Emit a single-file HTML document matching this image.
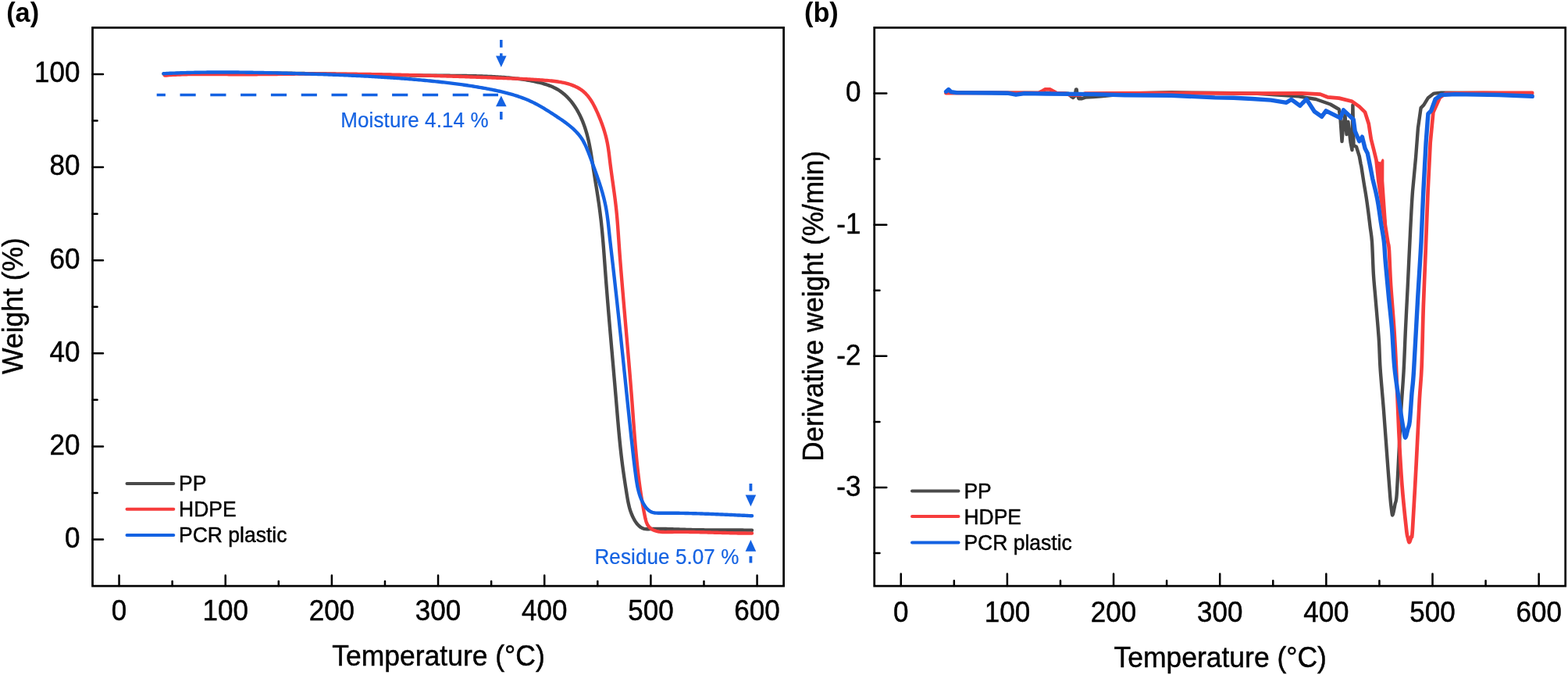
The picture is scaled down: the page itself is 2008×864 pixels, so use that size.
<!DOCTYPE html><html><head><meta charset="utf-8"><title>TGA and DTG curves</title><style>
html,body{margin:0;padding:0;background:#fff;width:2008px;height:864px;overflow:hidden}
svg{display:block}
text{font-family:"Liberation Sans",Arial,sans-serif;fill:#000;stroke:#000;stroke-width:0.45px}
.t{font-size:35px}
.l{font-size:26.5px}
.ti{font-size:35.5px}
.an{font-size:26px;fill:#1462e2;stroke:#1462e2;stroke-width:0.2px;letter-spacing:0.1px}
.b{font-size:34.3px;font-weight:bold;stroke:none}
</style></head><body>
<svg width="2008" height="864" viewBox="0 0 2008 864">
<rect width="2008" height="864" fill="#fff"/>
<text x="8.2" y="27.7" class="b">(a)</text>
<rect x="118.5" y="35.4" width="885.1" height="714.7" fill="none" stroke="#000" stroke-width="2.7"/>
<path d="M152.54 750.1V736.6M288.71 750.1V736.6M424.88 750.1V736.6M561.05 750.1V736.6M697.22 750.1V736.6M833.39 750.1V736.6M969.56 750.1V736.6M220.63 750.1V744M356.8 750.1V744M492.97 750.1V744M629.13 750.1V744M765.3 750.1V744M901.47 750.1V744M118.5 690.54H132M118.5 571.42H132M118.5 452.31H132M118.5 333.19H132M118.5 214.07H132M118.5 94.96H132M118.5 630.98H124.6M118.5 511.87H124.6M118.5 392.75H124.6M118.5 273.63H124.6M118.5 154.52H124.6" stroke="#000" stroke-width="2.5" stroke-linecap="round" fill="none"/>
<text transform="translate(152.54 794.1) scale(1 1.055)" text-anchor="middle" class="t">0</text>
<text transform="translate(288.71 794.1) scale(1 1.055)" text-anchor="middle" class="t">100</text>
<text transform="translate(424.88 794.1) scale(1 1.055)" text-anchor="middle" class="t">200</text>
<text transform="translate(561.05 794.1) scale(1 1.055)" text-anchor="middle" class="t">300</text>
<text transform="translate(697.22 794.1) scale(1 1.055)" text-anchor="middle" class="t">400</text>
<text transform="translate(833.39 794.1) scale(1 1.055)" text-anchor="middle" class="t">500</text>
<text transform="translate(969.56 794.1) scale(1 1.055)" text-anchor="middle" class="t">600</text>
<text transform="translate(102.5 700.94) scale(1 1.055)" text-anchor="end" class="t">0</text>
<text transform="translate(102.5 581.82) scale(1 1.055)" text-anchor="end" class="t">20</text>
<text transform="translate(102.5 462.71) scale(1 1.055)" text-anchor="end" class="t">40</text>
<text transform="translate(102.5 343.59) scale(1 1.055)" text-anchor="end" class="t">60</text>
<text transform="translate(102.5 224.47) scale(1 1.055)" text-anchor="end" class="t">80</text>
<text transform="translate(102.5 105.36) scale(1 1.055)" text-anchor="end" class="t">100</text>
<text transform="translate(561.5 851.8) scale(1 1.05)" class="ti" text-anchor="middle">Temperature (°C)</text>
<text transform="translate(28.7 391.5) rotate(-90) scale(1 1.05)" class="ti" text-anchor="middle">Weight (%)</text>
<g fill="none" stroke-width="4.4" stroke-linecap="round" stroke-linejoin="round">
<path d="M209.5 94.6 L211.5 94.53 L213.5 94.47 L215.5 94.41 L217.5 94.35 L219.5 94.29 L221.5 94.23 L223.5 94.18 L225.49 94.13 L227.49 94.07 L229.49 94.02 L231.49 93.98 L233.49 93.93 L235.49 93.88 L237.49 93.84 L239.49 93.8 L241.49 93.76 L243.49 93.72 L245.49 93.68 L247.48 93.65 L249.48 93.61 L251.48 93.58 L253.48 93.55 L255.48 93.52 L257.48 93.49 L259.48 93.47 L261.48 93.44 L263.48 93.42 L265.48 93.4 L267.47 93.37 L269.47 93.35 L271.47 93.34 L273.47 93.32 L275.47 93.3 L277.47 93.29 L279.47 93.28 L281.47 93.26 L283.47 93.25 L285.46 93.24 L287.46 93.24 L289.46 93.23 L291.46 93.22 L293.46 93.22 L295.46 93.22 L297.46 93.21 L299.46 93.21 L301.45 93.21 L303.45 93.21 L305.45 93.22 L307.45 93.22 L309.45 93.22 L311.45 93.23 L313.45 93.23 L315.44 93.24 L317.44 93.25 L319.44 93.26 L321.44 93.27 L323.44 93.28 L325.44 93.29 L327.44 93.31 L329.44 93.32 L331.43 93.33 L333.43 93.35 L335.43 93.37 L337.43 93.38 L339.43 93.4 L341.43 93.42 L343.43 93.44 L345.42 93.46 L347.42 93.48 L349.42 93.5 L351.42 93.53 L353.42 93.55 L355.42 93.57 L357.42 93.6 L359.41 93.62 L361.41 93.65 L363.41 93.67 L365.41 93.7 L367.41 93.73 L369.41 93.76 L371.41 93.79 L373.4 93.82 L375.4 93.85 L377.4 93.88 L379.4 93.91 L381.4 93.94 L383.4 93.97 L385.4 94 L387.39 94.04 L389.39 94.07 L391.39 94.1 L393.39 94.14 L395.39 94.17 L397.39 94.2 L399.39 94.24 L401.39 94.27 L403.38 94.31 L405.38 94.35 L407.38 94.38 L409.38 94.42 L411.38 94.46 L413.38 94.49 L415.38 94.53 L417.37 94.57 L419.37 94.6 L421.37 94.64 L423.37 94.68 L425.37 94.72 L427.37 94.76 L429.37 94.79 L431.37 94.83 L433.36 94.87 L435.36 94.91 L437.36 94.95 L439.36 94.99 L441.36 95.02 L443.36 95.06 L445.36 95.1 L447.36 95.14 L449.36 95.18 L451.35 95.21 L453.35 95.25 L455.35 95.29 L457.35 95.33 L459.35 95.37 L461.35 95.4 L463.35 95.44 L465.35 95.48 L467.35 95.52 L469.34 95.55 L471.34 95.59 L473.34 95.63 L475.34 95.66 L477.34 95.7 L479.34 95.73 L481.34 95.77 L483.34 95.8 L485.34 95.84 L487.34 95.87 L489.34 95.9 L491.33 95.94 L493.33 95.97 L495.33 96 L497.33 96.04 L499.33 96.07 L501.33 96.1 L503.33 96.13 L505.33 96.16 L507.33 96.19 L509.33 96.22 L511.33 96.25 L513.33 96.27 L515.33 96.3 L517.33 96.33 L519.32 96.36 L521.32 96.38 L523.32 96.41 L525.32 96.43 L527.32 96.45 L529.32 96.48 L531.32 96.5 L533.32 96.52 L535.32 96.54 L537.32 96.56 L539.32 96.58 L541.32 96.6 L543.32 96.62 L545.32 96.63 L547.32 96.65 L549.32 96.66 L551.32 96.68 L553.32 96.69 L555.32 96.7 L557.32 96.72 L559.32 96.73 L561.32 96.74 L563.32 96.75 L565.32 96.76 L567.32 96.77 L569.32 96.78 L571.32 96.79 L573.32 96.8 L575.32 96.81 L577.32 96.83 L579.32 96.84 L581.31 96.86 L583.31 96.87 L585.31 96.89 L587.31 96.91 L589.31 96.93 L591.31 96.96 L593.31 96.99 L595.31 97.01 L597.3 97.05 L599.3 97.08 L601.3 97.12 L603.3 97.16 L605.29 97.2 L607.29 97.25 L609.29 97.3 L611.28 97.36 L613.28 97.42 L615.27 97.48 L617.27 97.55 L619.26 97.62 L621.26 97.7 L623.25 97.78 L625.25 97.87 L627.24 97.96 L629.23 98.06 L631.23 98.16 L633.22 98.27 L635.21 98.38 L637.2 98.5 L639.19 98.63 L641.18 98.77 L643.17 98.91 L645.16 99.05 L647.15 99.21 L649.14 99.37 L651.13 99.55 L653.12 99.73 L655.1 99.92 L657.09 100.13 L659.07 100.34 L661.06 100.57 L663.04 100.8 L665.03 101.05 L667.01 101.32 L668.99 101.59 L670.97 101.89 L672.96 102.19 L674.94 102.51 L676.91 102.85 L678.89 103.2 L680.87 103.57 L682.85 103.96 L684.82 104.37 L686.8 104.79 L688.77 105.24 L690.74 105.7 L692.7 106.2 L694.65 106.72 L696.58 107.27 L698.51 107.85 L700.41 108.47 L702.3 109.12 L704.17 109.82 L706.01 110.56 L707.82 111.34 L709.61 112.17 L711.36 113.05 L713.09 113.98 L714.77 114.97 L716.42 116.01 L718.03 117.11 L719.61 118.26 L721.14 119.46 L722.64 120.71 L724.1 122.01 L725.53 123.36 L726.92 124.75 L728.28 126.18 L729.59 127.65 L730.88 129.16 L732.13 130.71 L733.34 132.29 L734.52 133.91 L735.66 135.56 L736.77 137.23 L737.85 138.94 L738.89 140.67 L739.9 142.42 L740.88 144.2 L741.82 146 L742.73 147.81 L743.61 149.64 L744.46 151.49 L745.28 153.35 L746.06 155.22 L746.81 157.1 L747.53 158.99 L748.23 160.89 L748.89 162.78 L749.52 164.69 L750.13 166.6 L750.7 168.51 L751.26 170.43 L751.79 172.35 L752.29 174.27 L752.78 176.2 L753.24 178.13 L753.69 180.07 L754.12 182.01 L754.53 183.95 L754.92 185.89 L755.3 187.84 L755.67 189.79 L756.03 191.75 L756.37 193.7 L756.71 195.66 L757.03 197.62 L757.35 199.58 L757.67 201.54 L757.97 203.51 L758.28 205.47 L758.58 207.44 L758.88 209.41 L759.18 211.38 L759.49 213.35 L759.79 215.32 L760.1 217.29 L760.41 219.26 L760.72 221.23 L761.03 223.21 L761.35 225.18 L761.67 227.15 L761.99 229.13 L762.3 231.1 L762.62 233.08 L762.94 235.05 L763.26 237.03 L763.58 239.01 L763.89 240.98 L764.21 242.96 L764.52 244.94 L764.83 246.92 L765.14 248.9 L765.45 250.88 L765.75 252.86 L766.05 254.84 L766.35 256.82 L766.64 258.8 L766.93 260.78 L767.21 262.76 L767.49 264.74 L767.76 266.73 L768.02 268.71 L768.28 270.69 L768.54 272.68 L768.78 274.66 L769.02 276.64 L769.26 278.63 L769.49 280.61 L769.71 282.6 L769.93 284.58 L770.15 286.57 L770.35 288.56 L770.56 290.54 L770.76 292.53 L770.95 294.52 L771.14 296.5 L771.33 298.49 L771.51 300.48 L771.69 302.47 L771.87 304.46 L772.04 306.45 L772.21 308.44 L772.38 310.43 L772.54 312.41 L772.7 314.4 L772.86 316.39 L773.02 318.39 L773.17 320.38 L773.32 322.37 L773.48 324.36 L773.63 326.35 L773.77 328.34 L773.92 330.33 L774.07 332.32 L774.22 334.32 L774.36 336.31 L774.51 338.3 L774.65 340.29 L774.8 342.29 L774.94 344.28 L775.09 346.27 L775.24 348.26 L775.38 350.26 L775.53 352.25 L775.68 354.24 L775.83 356.24 L775.99 358.23 L776.14 360.23 L776.29 362.22 L776.44 364.21 L776.6 366.21 L776.76 368.2 L776.91 370.2 L777.07 372.19 L777.23 374.19 L777.39 376.18 L777.55 378.18 L777.71 380.17 L777.87 382.16 L778.03 384.16 L778.19 386.15 L778.36 388.15 L778.52 390.14 L778.68 392.14 L778.85 394.13 L779.01 396.13 L779.18 398.12 L779.35 400.12 L779.51 402.11 L779.68 404.11 L779.85 406.1 L780.02 408.1 L780.19 410.09 L780.36 412.09 L780.53 414.08 L780.7 416.08 L780.87 418.07 L781.04 420.07 L781.21 422.06 L781.38 424.06 L781.55 426.05 L781.73 428.04 L781.9 430.04 L782.07 432.03 L782.25 434.03 L782.42 436.02 L782.59 438.01 L782.77 440.01 L782.94 442 L783.11 444 L783.29 445.99 L783.46 447.98 L783.64 449.97 L783.81 451.97 L783.99 453.96 L784.16 455.95 L784.33 457.95 L784.51 459.94 L784.68 461.93 L784.86 463.92 L785.03 465.91 L785.21 467.9 L785.38 469.9 L785.56 471.89 L785.73 473.88 L785.9 475.87 L786.08 477.86 L786.25 479.85 L786.42 481.84 L786.6 483.83 L786.77 485.82 L786.94 487.81 L787.12 489.8 L787.29 491.78 L787.46 493.77 L787.63 495.76 L787.8 497.75 L787.97 499.74 L788.14 501.72 L788.31 503.71 L788.48 505.7 L788.65 507.68 L788.82 509.67 L788.99 511.66 L789.16 513.64 L789.33 515.63 L789.49 517.61 L789.66 519.59 L789.83 521.58 L789.99 523.56 L790.16 525.55 L790.32 527.53 L790.49 529.51 L790.66 531.5 L790.83 533.48 L790.99 535.46 L791.16 537.45 L791.33 539.43 L791.51 541.42 L791.68 543.4 L791.85 545.38 L792.03 547.37 L792.21 549.35 L792.39 551.34 L792.57 553.33 L792.75 555.31 L792.94 557.3 L793.13 559.29 L793.32 561.27 L793.51 563.26 L793.71 565.25 L793.91 567.24 L794.12 569.23 L794.32 571.23 L794.53 573.22 L794.75 575.21 L794.97 577.21 L795.19 579.2 L795.41 581.2 L795.64 583.2 L795.88 585.2 L796.12 587.2 L796.36 589.2 L796.61 591.2 L796.86 593.2 L797.12 595.21 L797.39 597.22 L797.66 599.22 L797.93 601.23 L798.21 603.24 L798.49 605.25 L798.78 607.25 L799.07 609.26 L799.36 611.26 L799.66 613.27 L799.96 615.26 L800.26 617.26 L800.56 619.25 L800.87 621.24 L801.18 623.22 L801.49 625.2 L801.8 627.18 L802.11 629.15 L802.43 631.11 L802.74 633.06 L803.06 635.01 L803.38 636.95 L803.72 638.88 L804.07 640.81 L804.45 642.72 L804.85 644.63 L805.28 646.52 L805.74 648.41 L806.23 650.28 L806.77 652.14 L807.36 653.99 L808 655.83 L808.69 657.66 L809.43 659.48 L810.25 661.28 L811.12 663.06 L812.07 664.83 L813.1 666.59 L814.2 668.32 L815.4 669.99 L816.71 671.57 L818.14 673.02 L819.68 674.3 L821.32 675.39 L823.05 676.25 L824.86 676.84 L826.73 677.16 L828.67 677.25 L830.65 677.2 L832.67 677.09 L834.71 677 L836.78 676.94 L838.86 676.92 L840.94 676.91 L843.01 676.91 L845.07 676.92 L847.12 676.94 L849.16 676.97 L851.19 677.01 L853.21 677.06 L855.22 677.11 L857.23 677.16 L859.23 677.22 L861.22 677.28 L863.21 677.35 L865.19 677.41 L867.18 677.48 L869.16 677.55 L871.14 677.62 L873.11 677.69 L875.09 677.76 L877.07 677.82 L879.05 677.88 L881.03 677.94 L883.01 677.99 L885 678.04 L886.99 678.09 L888.98 678.13 L890.97 678.17 L892.96 678.21 L894.96 678.24 L896.96 678.27 L898.96 678.3 L900.96 678.32 L902.96 678.34 L904.96 678.36 L906.96 678.38 L908.97 678.39 L910.97 678.41 L912.98 678.42 L914.98 678.43 L916.99 678.44 L919 678.45 L921.01 678.46 L923.01 678.46 L925.02 678.47 L927.03 678.47 L929.03 678.48 L931.04 678.48 L933.05 678.49 L935.05 678.5 L937.06 678.5 L939.06 678.51 L941.06 678.52 L943.07 678.53 L945.07 678.54 L947.07 678.55 L949.06 678.56 L951.06 678.57 L953.06 678.59 L955.05 678.61 L957.04 678.63 L959.03 678.65 L961.02 678.67 L963 678.7" stroke="#4a4a4a"/>
<path d="M211 96.6 L213 96.44 L214.99 96.3 L216.99 96.16 L218.99 96.03 L220.98 95.91 L222.98 95.8 L224.98 95.7 L226.97 95.61 L228.97 95.52 L230.97 95.44 L232.96 95.37 L234.96 95.3 L236.96 95.25 L238.95 95.19 L240.95 95.15 L242.95 95.11 L244.94 95.07 L246.94 95.04 L248.94 95.02 L250.93 95 L252.93 94.98 L254.93 94.97 L256.92 94.96 L258.92 94.96 L260.92 94.96 L262.91 94.96 L264.91 94.97 L266.91 94.97 L268.91 94.98 L270.9 95 L272.9 95.01 L274.9 95.03 L276.89 95.04 L278.89 95.06 L280.89 95.08 L282.88 95.1 L284.88 95.12 L286.88 95.14 L288.88 95.15 L290.87 95.17 L292.87 95.19 L294.87 95.21 L296.87 95.22 L298.86 95.23 L300.86 95.24 L302.86 95.25 L304.85 95.26 L306.85 95.26 L308.85 95.26 L310.85 95.26 L312.84 95.26 L314.84 95.26 L316.84 95.25 L318.84 95.25 L320.83 95.24 L322.83 95.23 L324.83 95.22 L326.82 95.2 L328.82 95.19 L330.82 95.17 L332.82 95.16 L334.81 95.14 L336.81 95.12 L338.81 95.1 L340.81 95.08 L342.8 95.06 L344.8 95.04 L346.8 95.02 L348.8 95 L350.79 94.98 L352.79 94.95 L354.79 94.93 L356.79 94.91 L358.79 94.89 L360.78 94.86 L362.78 94.84 L364.78 94.82 L366.78 94.79 L368.77 94.77 L370.77 94.75 L372.77 94.73 L374.77 94.71 L376.76 94.69 L378.76 94.67 L380.76 94.65 L382.76 94.64 L384.75 94.62 L386.75 94.61 L388.75 94.59 L390.75 94.58 L392.75 94.57 L394.74 94.56 L396.74 94.55 L398.74 94.54 L400.74 94.54 L402.73 94.53 L404.73 94.53 L406.73 94.52 L408.73 94.52 L410.73 94.52 L412.72 94.52 L414.72 94.53 L416.72 94.53 L418.72 94.53 L420.72 94.54 L422.71 94.54 L424.71 94.55 L426.71 94.56 L428.71 94.57 L430.7 94.58 L432.7 94.59 L434.7 94.61 L436.7 94.62 L438.7 94.63 L440.69 94.65 L442.69 94.67 L444.69 94.68 L446.69 94.7 L448.69 94.72 L450.68 94.74 L452.68 94.77 L454.68 94.79 L456.68 94.81 L458.68 94.84 L460.67 94.86 L462.67 94.89 L464.67 94.92 L466.67 94.94 L468.66 94.97 L470.66 95 L472.66 95.03 L474.66 95.07 L476.66 95.1 L478.65 95.13 L480.65 95.17 L482.65 95.2 L484.65 95.24 L486.65 95.27 L488.64 95.31 L490.64 95.35 L492.64 95.39 L494.64 95.43 L496.64 95.47 L498.63 95.51 L500.63 95.55 L502.63 95.59 L504.63 95.64 L506.63 95.68 L508.62 95.73 L510.62 95.77 L512.62 95.82 L514.62 95.86 L516.62 95.91 L518.61 95.96 L520.61 96.01 L522.61 96.06 L524.61 96.11 L526.61 96.16 L528.6 96.21 L530.6 96.26 L532.6 96.31 L534.6 96.37 L536.6 96.42 L538.59 96.47 L540.59 96.53 L542.59 96.58 L544.59 96.64 L546.59 96.69 L548.58 96.75 L550.58 96.81 L552.58 96.86 L554.58 96.92 L556.58 96.98 L558.57 97.04 L560.57 97.1 L562.57 97.16 L564.57 97.22 L566.57 97.28 L568.56 97.34 L570.56 97.4 L572.56 97.46 L574.56 97.52 L576.55 97.59 L578.55 97.65 L580.55 97.71 L582.55 97.78 L584.54 97.84 L586.54 97.91 L588.54 97.97 L590.54 98.04 L592.53 98.1 L594.53 98.17 L596.53 98.24 L598.53 98.3 L600.52 98.37 L602.52 98.44 L604.52 98.51 L606.51 98.58 L608.51 98.65 L610.5 98.72 L612.5 98.79 L614.5 98.86 L616.49 98.94 L618.49 99.01 L620.48 99.08 L622.48 99.15 L624.47 99.23 L626.47 99.3 L628.46 99.38 L630.46 99.46 L632.45 99.53 L634.45 99.61 L636.44 99.69 L638.43 99.76 L640.43 99.84 L642.42 99.92 L644.41 100 L646.41 100.08 L648.4 100.16 L650.39 100.24 L652.39 100.33 L654.38 100.41 L656.37 100.49 L658.36 100.58 L660.35 100.66 L662.34 100.75 L664.33 100.83 L666.32 100.92 L668.31 101.01 L670.3 101.1 L672.3 101.19 L674.29 101.29 L676.28 101.39 L678.27 101.49 L680.26 101.6 L682.26 101.71 L684.25 101.83 L686.24 101.95 L688.24 102.08 L690.24 102.21 L692.23 102.35 L694.23 102.5 L696.23 102.66 L698.24 102.82 L700.24 102.99 L702.24 103.17 L704.25 103.36 L706.26 103.56 L708.26 103.77 L710.27 104.01 L712.27 104.26 L714.26 104.54 L716.25 104.84 L718.23 105.18 L720.2 105.55 L722.16 105.96 L724.11 106.41 L726.04 106.9 L727.96 107.43 L729.86 108.02 L731.74 108.66 L733.61 109.35 L735.45 110.11 L737.27 110.92 L739.06 111.8 L740.81 112.75 L742.51 113.76 L744.17 114.85 L745.76 116.01 L747.3 117.25 L748.76 118.56 L750.16 119.94 L751.5 121.38 L752.78 122.88 L754.01 124.43 L755.18 126.02 L756.31 127.65 L757.38 129.31 L758.41 131 L759.4 132.71 L760.35 134.45 L761.26 136.2 L762.15 137.97 L763.01 139.76 L763.85 141.56 L764.68 143.38 L765.5 145.21 L766.3 147.06 L767.08 148.92 L767.86 150.78 L768.61 152.66 L769.35 154.54 L770.07 156.43 L770.77 158.32 L771.45 160.22 L772.12 162.13 L772.76 164.04 L773.38 165.95 L773.98 167.87 L774.55 169.8 L775.1 171.73 L775.63 173.66 L776.12 175.6 L776.6 177.54 L777.04 179.48 L777.46 181.43 L777.85 183.38 L778.21 185.33 L778.55 187.29 L778.86 189.25 L779.16 191.21 L779.44 193.17 L779.71 195.14 L779.96 197.11 L780.21 199.08 L780.45 201.05 L780.68 203.02 L780.92 204.99 L781.16 206.97 L781.4 208.94 L781.65 210.92 L781.9 212.89 L782.16 214.87 L782.43 216.85 L782.69 218.82 L782.96 220.8 L783.23 222.78 L783.51 224.76 L783.78 226.74 L784.06 228.72 L784.34 230.7 L784.62 232.68 L784.9 234.66 L785.18 236.64 L785.46 238.62 L785.74 240.61 L786.01 242.59 L786.29 244.57 L786.56 246.56 L786.83 248.54 L787.09 250.53 L787.36 252.51 L787.61 254.5 L787.87 256.48 L788.11 258.47 L788.35 260.46 L788.59 262.44 L788.82 264.43 L789.04 266.42 L789.26 268.41 L789.46 270.39 L789.66 272.38 L789.86 274.37 L790.04 276.36 L790.22 278.35 L790.39 280.34 L790.55 282.33 L790.71 284.32 L790.87 286.31 L791.02 288.3 L791.17 290.29 L791.31 292.28 L791.45 294.27 L791.59 296.26 L791.73 298.25 L791.87 300.24 L792 302.24 L792.14 304.23 L792.27 306.22 L792.41 308.21 L792.55 310.2 L792.68 312.19 L792.83 314.19 L792.97 316.18 L793.11 318.17 L793.26 320.16 L793.4 322.15 L793.55 324.15 L793.7 326.14 L793.85 328.13 L794.01 330.12 L794.16 332.12 L794.31 334.11 L794.47 336.1 L794.63 338.09 L794.79 340.09 L794.94 342.08 L795.1 344.07 L795.26 346.06 L795.43 348.05 L795.59 350.05 L795.75 352.04 L795.92 354.03 L796.08 356.02 L796.24 358.01 L796.41 360 L796.58 361.99 L796.74 363.99 L796.91 365.98 L797.08 367.97 L797.24 369.96 L797.41 371.95 L797.58 373.94 L797.75 375.93 L797.92 377.92 L798.09 379.91 L798.26 381.9 L798.43 383.89 L798.6 385.88 L798.77 387.87 L798.94 389.86 L799.11 391.85 L799.28 393.84 L799.46 395.83 L799.63 397.82 L799.8 399.81 L799.97 401.8 L800.15 403.79 L800.32 405.78 L800.49 407.77 L800.66 409.76 L800.84 411.75 L801.01 413.74 L801.18 415.73 L801.36 417.72 L801.53 419.71 L801.7 421.7 L801.88 423.69 L802.05 425.68 L802.22 427.67 L802.39 429.66 L802.57 431.64 L802.74 433.63 L802.91 435.62 L803.08 437.61 L803.26 439.6 L803.43 441.59 L803.6 443.58 L803.77 445.57 L803.94 447.56 L804.11 449.55 L804.28 451.54 L804.45 453.53 L804.62 455.52 L804.79 457.51 L804.96 459.5 L805.13 461.49 L805.3 463.48 L805.47 465.47 L805.63 467.46 L805.8 469.45 L805.97 471.44 L806.13 473.43 L806.3 475.42 L806.46 477.41 L806.63 479.41 L806.79 481.4 L806.95 483.39 L807.12 485.38 L807.28 487.37 L807.44 489.36 L807.6 491.35 L807.76 493.34 L807.92 495.33 L808.08 497.33 L808.23 499.32 L808.39 501.31 L808.55 503.3 L808.7 505.29 L808.86 507.29 L809.01 509.28 L809.16 511.27 L809.32 513.27 L809.47 515.26 L809.62 517.25 L809.77 519.24 L809.92 521.24 L810.06 523.23 L810.21 525.23 L810.36 527.22 L810.51 529.21 L810.65 531.21 L810.8 533.2 L810.95 535.19 L811.09 537.19 L811.24 539.18 L811.39 541.18 L811.54 543.17 L811.69 545.16 L811.84 547.16 L811.99 549.15 L812.14 551.14 L812.29 553.14 L812.45 555.13 L812.61 557.13 L812.76 559.12 L812.92 561.11 L813.08 563.1 L813.25 565.1 L813.41 567.09 L813.58 569.08 L813.75 571.07 L813.92 573.07 L814.1 575.06 L814.27 577.05 L814.46 579.04 L814.64 581.03 L814.82 583.02 L815.01 585.01 L815.21 587 L815.4 588.99 L815.6 590.98 L815.8 592.97 L816.01 594.95 L816.22 596.94 L816.44 598.93 L816.66 600.92 L816.88 602.9 L817.11 604.89 L817.34 606.87 L817.57 608.86 L817.81 610.84 L818.06 612.83 L818.31 614.81 L818.57 616.79 L818.83 618.78 L819.1 620.76 L819.37 622.74 L819.64 624.72 L819.93 626.7 L820.22 628.68 L820.51 630.66 L820.81 632.63 L821.12 634.61 L821.43 636.59 L821.75 638.56 L822.08 640.54 L822.41 642.51 L822.75 644.49 L823.1 646.46 L823.45 648.43 L823.81 650.4 L824.18 652.37 L824.55 654.34 L824.94 656.31 L825.33 658.28 L825.72 660.24 L826.13 662.21 L826.57 664.15 L827.06 666.06 L827.62 667.9 L828.27 669.67 L829.04 671.33 L829.96 672.87 L831.03 674.28 L832.26 675.53 L833.64 676.65 L835.16 677.63 L836.79 678.47 L838.54 679.19 L840.37 679.77 L842.29 680.23 L844.28 680.58 L846.32 680.82 L848.41 680.98 L850.53 681.06 L852.68 681.09 L854.83 681.07 L856.98 681.03 L859.11 680.98 L861.22 680.93 L863.3 680.89 L865.35 680.87 L867.38 680.85 L869.39 680.84 L871.38 680.84 L873.37 680.84 L875.34 680.85 L877.31 680.87 L879.27 680.89 L881.24 680.91 L883.21 680.94 L885.18 680.97 L887.15 681.01 L889.13 681.04 L891.11 681.08 L893.09 681.13 L895.07 681.17 L897.06 681.22 L899.05 681.26 L901.04 681.31 L903.03 681.37 L905.02 681.42 L907.02 681.47 L909.01 681.53 L911.01 681.58 L913.01 681.64 L915.01 681.69 L917.01 681.75 L919.01 681.8 L921.01 681.86 L923.01 681.91 L925.02 681.97 L927.02 682.02 L929.02 682.07 L931.03 682.12 L933.03 682.17 L935.03 682.22 L937.04 682.27 L939.04 682.31 L941.04 682.35 L943.04 682.39 L945.04 682.43 L947.04 682.46 L949.04 682.49 L951.04 682.52 L953.04 682.54 L955.03 682.56 L957.03 682.58 L959.02 682.59 L961.01 682.6 L963 682.6" stroke="#f63c3c"/>
<path d="M209.5 94.2 L211.49 94.1 L213.49 94 L215.48 93.91 L217.48 93.82 L219.47 93.74 L221.47 93.66 L223.46 93.58 L225.46 93.5 L227.45 93.43 L229.45 93.36 L231.44 93.29 L233.44 93.23 L235.43 93.16 L237.43 93.11 L239.42 93.05 L241.42 93 L243.42 92.95 L245.41 92.9 L247.41 92.85 L249.4 92.81 L251.4 92.77 L253.39 92.74 L255.39 92.7 L257.38 92.67 L259.38 92.64 L261.37 92.61 L263.37 92.59 L265.37 92.57 L267.36 92.55 L269.36 92.53 L271.35 92.51 L273.35 92.5 L275.34 92.49 L277.34 92.48 L279.34 92.48 L281.33 92.47 L283.33 92.47 L285.32 92.47 L287.32 92.47 L289.31 92.47 L291.31 92.48 L293.31 92.49 L295.3 92.5 L297.3 92.51 L299.29 92.52 L301.29 92.53 L303.29 92.55 L305.28 92.57 L307.28 92.59 L309.27 92.61 L311.27 92.63 L313.27 92.66 L315.26 92.68 L317.26 92.71 L319.25 92.74 L321.25 92.77 L323.25 92.8 L325.24 92.84 L327.24 92.87 L329.23 92.91 L331.23 92.94 L333.23 92.98 L335.22 93.02 L337.22 93.06 L339.21 93.1 L341.21 93.15 L343.21 93.19 L345.2 93.23 L347.2 93.28 L349.19 93.33 L351.19 93.37 L353.19 93.42 L355.18 93.47 L357.18 93.52 L359.17 93.57 L361.17 93.62 L363.17 93.68 L365.16 93.73 L367.16 93.78 L369.15 93.84 L371.15 93.89 L373.14 93.95 L375.14 94 L377.14 94.06 L379.13 94.11 L381.13 94.17 L383.12 94.23 L385.12 94.29 L387.12 94.35 L389.11 94.41 L391.11 94.47 L393.1 94.53 L395.1 94.59 L397.09 94.65 L399.09 94.71 L401.08 94.78 L403.08 94.84 L405.08 94.91 L407.07 94.97 L409.07 95.04 L411.06 95.11 L413.06 95.17 L415.05 95.24 L417.05 95.31 L419.04 95.39 L421.04 95.46 L423.03 95.53 L425.03 95.61 L427.02 95.68 L429.02 95.76 L431.02 95.84 L433.01 95.92 L435.01 96 L437 96.08 L439 96.16 L440.99 96.24 L442.99 96.33 L444.98 96.42 L446.97 96.5 L448.97 96.59 L450.96 96.68 L452.96 96.78 L454.95 96.87 L456.95 96.96 L458.94 97.06 L460.94 97.16 L462.93 97.26 L464.93 97.36 L466.92 97.46 L468.91 97.57 L470.91 97.67 L472.9 97.78 L474.9 97.89 L476.89 98 L478.89 98.11 L480.88 98.23 L482.87 98.34 L484.87 98.46 L486.86 98.58 L488.86 98.7 L490.85 98.83 L492.84 98.95 L494.84 99.08 L496.83 99.21 L498.82 99.34 L500.82 99.47 L502.81 99.61 L504.8 99.75 L506.8 99.89 L508.79 100.03 L510.78 100.17 L512.78 100.32 L514.77 100.47 L516.76 100.62 L518.76 100.77 L520.75 100.93 L522.74 101.08 L524.73 101.24 L526.73 101.41 L528.72 101.57 L530.71 101.74 L532.7 101.91 L534.7 102.08 L536.69 102.25 L538.68 102.43 L540.67 102.61 L542.66 102.79 L544.66 102.98 L546.65 103.16 L548.64 103.35 L550.63 103.55 L552.62 103.74 L554.61 103.94 L556.6 104.14 L558.59 104.35 L560.58 104.56 L562.57 104.77 L564.56 104.99 L566.55 105.21 L568.53 105.43 L570.52 105.66 L572.51 105.89 L574.49 106.13 L576.48 106.36 L578.46 106.61 L580.44 106.86 L582.43 107.11 L584.41 107.36 L586.39 107.63 L588.37 107.89 L590.35 108.16 L592.32 108.44 L594.3 108.72 L596.28 109 L598.25 109.29 L600.22 109.59 L602.19 109.89 L604.17 110.2 L606.13 110.51 L608.1 110.82 L610.07 111.15 L612.03 111.47 L614 111.81 L615.96 112.15 L617.92 112.49 L619.88 112.84 L621.84 113.2 L623.79 113.57 L625.75 113.94 L627.7 114.31 L629.65 114.7 L631.6 115.09 L633.55 115.49 L635.49 115.9 L637.43 116.31 L639.37 116.74 L641.3 117.18 L643.24 117.63 L645.17 118.09 L647.09 118.57 L649.01 119.06 L650.93 119.57 L652.84 120.09 L654.75 120.62 L656.66 121.18 L658.55 121.75 L660.45 122.34 L662.34 122.95 L664.22 123.58 L666.1 124.23 L667.97 124.9 L669.84 125.59 L671.69 126.31 L673.55 127.05 L675.39 127.81 L677.23 128.6 L679.06 129.42 L680.89 130.26 L682.71 131.13 L684.51 132.03 L686.32 132.95 L688.11 133.9 L689.89 134.87 L691.67 135.87 L693.44 136.88 L695.19 137.91 L696.94 138.96 L698.68 140.02 L700.41 141.09 L702.13 142.17 L703.84 143.25 L705.54 144.34 L707.23 145.44 L708.9 146.53 L710.57 147.62 L712.23 148.71 L713.87 149.79 L715.5 150.88 L717.12 151.96 L718.73 153.05 L720.32 154.15 L721.9 155.26 L723.47 156.38 L725.03 157.53 L726.57 158.69 L728.1 159.88 L729.62 161.1 L731.12 162.36 L732.61 163.64 L734.08 164.97 L735.54 166.34 L736.98 167.75 L738.39 169.2 L739.77 170.7 L741.1 172.23 L742.38 173.8 L743.6 175.4 L744.74 177.04 L745.8 178.7 L746.8 180.4 L747.74 182.12 L748.64 183.87 L749.49 185.64 L750.31 187.43 L751.1 189.24 L751.88 191.07 L752.64 192.91 L753.39 194.77 L754.12 196.64 L754.84 198.52 L755.55 200.4 L756.25 202.3 L756.94 204.19 L757.64 206.09 L758.33 207.99 L759.02 209.89 L759.71 211.79 L760.41 213.69 L761.09 215.58 L761.78 217.48 L762.46 219.38 L763.14 221.27 L763.81 223.17 L764.48 225.07 L765.14 226.96 L765.8 228.86 L766.44 230.76 L767.08 232.66 L767.71 234.56 L768.33 236.46 L768.94 238.36 L769.53 240.27 L770.11 242.17 L770.68 244.08 L771.24 245.99 L771.78 247.9 L772.31 249.82 L772.82 251.74 L773.31 253.66 L773.79 255.58 L774.25 257.51 L774.68 259.44 L775.1 261.37 L775.5 263.31 L775.88 265.25 L776.23 267.19 L776.57 269.14 L776.89 271.09 L777.2 273.04 L777.49 275 L777.76 276.96 L778.02 278.92 L778.28 280.89 L778.52 282.86 L778.75 284.83 L778.98 286.8 L779.2 288.78 L779.42 290.76 L779.63 292.74 L779.84 294.72 L780.05 296.71 L780.26 298.69 L780.47 300.68 L780.69 302.67 L780.9 304.66 L781.12 306.65 L781.34 308.65 L781.57 310.64 L781.79 312.63 L782.01 314.63 L782.24 316.63 L782.47 318.62 L782.7 320.62 L782.93 322.62 L783.16 324.62 L783.39 326.61 L783.62 328.61 L783.85 330.61 L784.08 332.61 L784.31 334.6 L784.55 336.6 L784.78 338.6 L785.01 340.59 L785.24 342.59 L785.47 344.58 L785.69 346.57 L785.92 348.56 L786.15 350.56 L786.37 352.55 L786.6 354.54 L786.82 356.52 L787.05 358.51 L787.27 360.5 L787.49 362.49 L787.72 364.47 L787.94 366.46 L788.16 368.45 L788.38 370.43 L788.6 372.41 L788.82 374.4 L789.04 376.38 L789.26 378.36 L789.48 380.35 L789.69 382.33 L789.91 384.31 L790.13 386.29 L790.35 388.27 L790.56 390.25 L790.78 392.23 L790.99 394.21 L791.21 396.19 L791.42 398.17 L791.63 400.15 L791.85 402.13 L792.06 404.11 L792.27 406.09 L792.48 408.07 L792.7 410.05 L792.91 412.02 L793.12 414 L793.33 415.98 L793.54 417.96 L793.75 419.94 L793.96 421.91 L794.17 423.89 L794.38 425.87 L794.59 427.85 L794.8 429.83 L795.01 431.81 L795.22 433.78 L795.42 435.76 L795.63 437.74 L795.84 439.72 L796.05 441.7 L796.26 443.68 L796.46 445.66 L796.67 447.64 L796.88 449.62 L797.08 451.6 L797.29 453.58 L797.5 455.56 L797.7 457.54 L797.91 459.53 L798.12 461.51 L798.32 463.49 L798.53 465.48 L798.74 467.46 L798.94 469.44 L799.15 471.43 L799.35 473.41 L799.56 475.4 L799.77 477.39 L799.97 479.37 L800.18 481.36 L800.39 483.35 L800.59 485.34 L800.8 487.33 L801 489.32 L801.21 491.31 L801.42 493.3 L801.62 495.3 L801.83 497.29 L802.04 499.28 L802.24 501.28 L802.45 503.27 L802.66 505.27 L802.86 507.27 L803.07 509.26 L803.28 511.26 L803.49 513.26 L803.7 515.26 L803.9 517.26 L804.11 519.25 L804.32 521.25 L804.53 523.25 L804.74 525.25 L804.95 527.25 L805.16 529.25 L805.37 531.25 L805.58 533.24 L805.79 535.24 L806 537.24 L806.21 539.24 L806.42 541.23 L806.63 543.23 L806.85 545.22 L807.06 547.22 L807.27 549.21 L807.49 551.21 L807.7 553.2 L807.91 555.19 L808.13 557.18 L808.34 559.17 L808.56 561.16 L808.78 563.15 L808.99 565.14 L809.21 567.12 L809.43 569.11 L809.65 571.09 L809.86 573.08 L810.08 575.06 L810.3 577.04 L810.52 579.01 L810.75 580.99 L810.97 582.96 L811.19 584.94 L811.42 586.91 L811.65 588.88 L811.88 590.85 L812.11 592.81 L812.35 594.78 L812.59 596.74 L812.83 598.7 L813.08 600.66 L813.33 602.61 L813.59 604.57 L813.84 606.52 L814.11 608.47 L814.38 610.42 L814.65 612.36 L814.94 614.3 L815.23 616.24 L815.54 618.18 L815.87 620.11 L816.22 622.04 L816.6 623.97 L817.02 625.9 L817.48 627.82 L817.98 629.74 L818.53 631.66 L819.13 633.57 L819.79 635.49 L820.51 637.39 L821.31 639.3 L822.17 641.2 L823.11 643.1 L824.12 644.97 L825.22 646.8 L826.41 648.55 L827.67 650.19 L829.03 651.7 L830.47 653.04 L831.99 654.18 L833.61 655.1 L835.32 655.78 L837.12 656.22 L838.99 656.48 L840.92 656.62 L842.9 656.68 L844.92 656.71 L846.96 656.71 L849.01 656.7 L851.05 656.69 L853.1 656.69 L855.13 656.69 L857.17 656.69 L859.19 656.7 L861.21 656.71 L863.23 656.73 L865.24 656.75 L867.25 656.77 L869.26 656.8 L871.26 656.83 L873.26 656.86 L875.26 656.9 L877.26 656.94 L879.25 656.98 L881.24 657.03 L883.24 657.08 L885.23 657.13 L887.22 657.18 L889.21 657.24 L891.2 657.3 L893.19 657.36 L895.18 657.42 L897.17 657.48 L899.17 657.55 L901.16 657.61 L903.15 657.68 L905.14 657.75 L907.14 657.82 L909.13 657.9 L911.13 657.97 L913.12 658.05 L915.11 658.13 L917.11 658.2 L919.1 658.28 L921.1 658.37 L923.09 658.45 L925.09 658.53 L927.08 658.62 L929.08 658.71 L931.08 658.79 L933.07 658.88 L935.07 658.97 L937.06 659.06 L939.06 659.15 L941.05 659.24 L943.05 659.34 L945.04 659.43 L947.04 659.52 L949.04 659.62 L951.03 659.72 L953.03 659.81 L955.02 659.91 L957.02 660.01 L959.01 660.1 L961.01 660.2 L963 660.3" stroke="#1462e2"/>
</g>
<g stroke="#1462e2" fill="none">
<path d="M200.7 121.5H638" stroke-width="3.3" stroke-dasharray="20.2 18.6" stroke-dashoffset="9"/>
<path d="M641.8 51V60.8M641.8 68.3V72" stroke-width="3.5"/>
<path d="M641.8 143V153" stroke-width="3.5"/>
<path d="M961.4 619V628.5M961.4 712V720.5" stroke-width="3.8"/>
</g>
<g fill="#1462e2">
<path d="M635 71.5H648.6L641.8 86Z"/>
<path d="M635 136.2H648.6L641.8 122.4Z"/>
<path d="M954.6 633.6H968.2L961.4 648.3Z"/>
<path d="M954.6 705.8H968.2L961.4 691.1Z"/>
</g>
<text transform="translate(436.3 163) scale(1 1.04)" class="an">Moisture 4.14 %</text>
<text transform="translate(761.5 721.6) scale(1 1.04)" class="an">Residue 5.07 %</text>
<g stroke-width="4" stroke-linecap="round">
<path d="M162.5 618.9H222.3" stroke="#4a4a4a"/>
<path d="M162.5 651.8H222.3" stroke="#f63c3c"/>
<path d="M162.5 684.9H222.3" stroke="#1462e2"/>
</g>
<text transform="translate(229 627.8) scale(1 1.045)" class="l">PP</text>
<text transform="translate(229 661) scale(1 1.045)" class="l">HDPE</text>
<text transform="translate(229 693.6) scale(1 1.045)" class="l">PCR plastic</text>
<text x="1030" y="27.9" class="b">(b)</text>
<rect x="1119.7" y="35.4" width="885" height="714.7" fill="none" stroke="#000" stroke-width="2.7"/>
<path d="M1153.74 750.1V734.5M1289.89 750.1V734.5M1426.05 750.1V734.5M1562.2 750.1V734.5M1698.35 750.1V734.5M1834.51 750.1V734.5M1970.66 750.1V734.5M1221.82 750.1V743.3M1357.97 750.1V743.3M1494.12 750.1V743.3M1630.28 750.1V743.3M1766.43 750.1V743.3M1902.58 750.1V743.3M1119.7 119.48H1135.3M1119.7 287.65H1135.3M1119.7 455.81H1135.3M1119.7 623.98H1135.3M1119.7 203.56H1126.5M1119.7 371.73H1126.5M1119.7 539.89H1126.5M1119.7 708.06H1126.5" stroke="#000" stroke-width="2.5" stroke-linecap="round" fill="none"/>
<text transform="translate(1153.74 796.1) scale(1 1.055)" text-anchor="middle" class="t">0</text>
<text transform="translate(1289.89 796.1) scale(1 1.055)" text-anchor="middle" class="t">100</text>
<text transform="translate(1426.05 796.1) scale(1 1.055)" text-anchor="middle" class="t">200</text>
<text transform="translate(1562.2 796.1) scale(1 1.055)" text-anchor="middle" class="t">300</text>
<text transform="translate(1698.35 796.1) scale(1 1.055)" text-anchor="middle" class="t">400</text>
<text transform="translate(1834.51 796.1) scale(1 1.055)" text-anchor="middle" class="t">500</text>
<text transform="translate(1970.66 796.1) scale(1 1.055)" text-anchor="middle" class="t">600</text>
<text transform="translate(1102.4 130.48) scale(1 1.055)" text-anchor="end" class="t">0</text>
<text transform="translate(1102.4 298.65) scale(1 1.055)" text-anchor="end" class="t">-1</text>
<text transform="translate(1102.4 466.81) scale(1 1.055)" text-anchor="end" class="t">-2</text>
<text transform="translate(1102.4 634.98) scale(1 1.055)" text-anchor="end" class="t">-3</text>
<text transform="translate(1562.7 854.2) scale(1 1.05)" class="ti" text-anchor="middle">Temperature (°C)</text>
<text transform="translate(1054.2 392) rotate(-90) scale(1 1.035)" class="ti" text-anchor="middle" style="font-size:35.1px">Derivative weight (%/min)</text>
<g fill="none" stroke-width="4.4" stroke-linecap="round" stroke-linejoin="round">
<path d="M1211.5 118.2L1260 118.6L1320 119L1368 119.6L1372 123.6L1374.3 125L1376.3 123L1378 114.4L1378.7 114.4L1379.4 121L1381.5 126.2L1385.5 126.2L1390 124.6L1400 124L1410 123.2L1430 121.2L1460 119.2L1500 118.3L1560 119L1610 119.8L1648 122.4L1663 123.3L1685.2 127L1703.7 133.5L1714.8 140L1716.5 152L1718.5 181L1720.3 160L1722.5 148L1724.5 172L1726.5 156L1729.5 182L1731.5 192L1732.4 134.4L1733.5 186L1737 188L1740.8 200L1742.6 210L1743.2 212.4L1746.5 233.5C1747.58 240.25 1748.75 246.68 1749.7 252.9C1750.65 259.12 1751.38 264.58 1752.2 270.8C1753.02 277.02 1753.8 283.72 1754.6 290.2C1755.4 296.68 1756.28 299.55 1757 309.7C1757.72 319.85 1758.12 338.65 1758.9 351.1C1759.68 363.55 1760.55 370.52 1761.7 384.4C1762.85 398.28 1764.82 419.8 1765.8 434.4C1766.78 449 1766.57 456.8 1767.6 472C1768.63 487.2 1770.58 507.42 1772 525.6C1773.42 543.78 1774.72 562.58 1776.1 581.1C1777.48 599.62 1779.28 624.55 1780.3 636.7C1781.32 648.85 1781.75 650.23 1782.2 654C1782.65 657.77 1782.65 658.88 1783 659.3C1783.35 659.72 1783.7 658.88 1784.3 656.5C1784.9 654.12 1785.88 648.77 1786.6 645C1787.32 641.23 1787.8 644.55 1788.6 633.9C1789.4 623.25 1790.47 599.15 1791.4 581.1C1792.33 563.05 1793.17 543.28 1794.2 525.6C1795.23 507.92 1796.63 492.5 1797.6 475C1798.57 457.5 1799.13 438.93 1800 420.6C1800.87 402.27 1801.78 385.83 1802.8 365C1803.82 344.17 1805.07 315.6 1806.1 295.6C1807.13 275.6 1807.83 260.75 1809 245L1813.1 201.1L1815.9 164.1L1819.6 138.1L1823.3 134.4L1828.9 125.2L1836.3 119.6L1845.6 118.7L1900 119L1962 119.6" stroke="#4a4a4a"/>
<path d="M1211.5 119.2L1260 118.8L1330 118.8L1334 117L1338.5 114.4L1344.5 114.4L1349.5 117L1353 119L1364 119.6L1370 121.4L1384 121.6L1390 119.6L1420 119.3L1500 119L1592.6 119.6L1666.7 119.3L1690.7 120.6L1700 124.3L1714.8 125.6L1731.5 129.8L1740.7 136.3L1748.1 143.7L1752.8 158.5L1755.8 178L1759.6 193L1762.5 205L1765.3 231.5L1769 256C1770.38 265.08 1772.22 277.05 1773.6 286C1774.98 294.95 1776.42 304.03 1777.3 309.7C1778.18 315.37 1778.27 310.78 1778.9 320C1779.53 329.22 1780.03 348.23 1781.1 365C1782.17 381.77 1784.15 403.1 1785.3 420.6C1786.45 438.1 1786.98 447.88 1788 470C1789.02 492.12 1790.13 527.83 1791.4 553.3C1792.67 578.77 1793.98 601.97 1795.6 622.8C1797.22 643.63 1799.9 667.43 1801.1 678.3C1802.3 689.17 1802.27 685.45 1802.8 688C1803.33 690.55 1803.87 692.73 1804.3 693.6C1804.73 694.47 1804.9 694.3 1805.4 693.2C1805.9 692.1 1806.72 689.48 1807.3 687C1807.88 684.52 1807.85 693.63 1808.9 678.3C1809.95 662.97 1812.12 622.77 1813.6 595C1815.08 567.23 1816.63 532.53 1817.8 511.7C1818.97 490.87 1819.77 489.82 1820.6 470C1821.43 450.18 1821.97 417.25 1822.8 392.8C1823.63 368.35 1824.63 347.93 1825.6 323.3C1826.57 298.67 1827.58 268.45 1828.6 245L1831.7 182.6L1835.4 143.7L1843.7 125.2L1851.1 119.6L1900 118.8L1962.2 118.9" stroke="#f63c3c" stroke-width="4.7"/>
<path d="M1762.2 207L1765 206.5L1768 207.5L1769.6 204L1771 203L1772.4 205L1772.3 231.5L1774.3 260.6L1776.1 286L1771.5 288L1767 255.8L1763.4 231.5Z" fill="#f63c3c" stroke="none"/>
<path d="M1211.6 117.2L1214.7 114.5L1218 117.6L1225 118.6L1290 119.2L1301 121.2L1312 119.6L1340 120L1400 120.6L1440 121.8L1500 122.3L1555.8 124.9L1579.7 125.3L1603.6 126.5L1627.5 128.1L1647.4 131.3L1653.8 127.3L1664.8 135.4L1668 132L1673.1 127L1683.3 142.8L1692.6 149.3L1698.1 141.9L1716.7 151.1L1720.4 140.9L1733.3 153L1735.2 167.8L1740.7 180.7L1744.4 175.2L1748.1 190L1751.3 196.2L1754.6 212.4L1757.7 228.6L1761.7 244.8C1762.9 250.2 1763.77 254.25 1764.9 261C1766.03 267.75 1767.25 277.18 1768.5 285.3C1769.75 293.42 1771.45 301.52 1772.4 309.7C1773.35 317.88 1773.22 322.87 1774.2 334.4C1775.18 345.93 1776.92 364.53 1778.3 378.9C1779.68 393.27 1781.25 405.42 1782.5 420.6C1783.75 435.78 1784.32 454.82 1785.8 470C1787.28 485.18 1789.77 500.13 1791.4 511.7C1793.03 523.27 1794.58 533.02 1795.6 539.4C1796.62 545.78 1796.9 546.7 1797.5 550C1798.1 553.3 1798.7 557.77 1799.2 559.2C1799.7 560.63 1799.88 560.3 1800.5 558.6C1801.12 556.9 1802.1 552.2 1802.9 549C1803.7 545.8 1804.45 547.02 1805.3 539.4C1806.15 531.78 1807.13 514.03 1808 503.3C1808.87 492.57 1809.2 495.73 1810.5 475C1811.8 454.27 1814.22 406.5 1815.8 378.9C1817.38 351.3 1818.83 331.72 1820 309.4C1821.17 287.08 1821.78 266.13 1822.8 245L1826.1 182.6L1828.9 145.6L1832.6 141.9L1838.1 127L1845.6 121.5L1864 120.6L1919.6 121.5L1962.2 123.3" stroke="#1462e2" stroke-width="5.4"/>
</g>
<g stroke-width="4" stroke-linecap="round">
<path d="M1168 628.5H1227.5" stroke="#4a4a4a"/>
<path d="M1168 661.1H1227.5" stroke="#f63c3c"/>
<path d="M1168 694.4H1227.5" stroke="#1462e2"/>
</g>
<text transform="translate(1234.4 637.5) scale(1 1.045)" class="l">PP</text>
<text transform="translate(1234.4 670.6) scale(1 1.045)" class="l">HDPE</text>
<text transform="translate(1234.4 703.5) scale(1 1.045)" class="l">PCR plastic</text>
</svg></body></html>
